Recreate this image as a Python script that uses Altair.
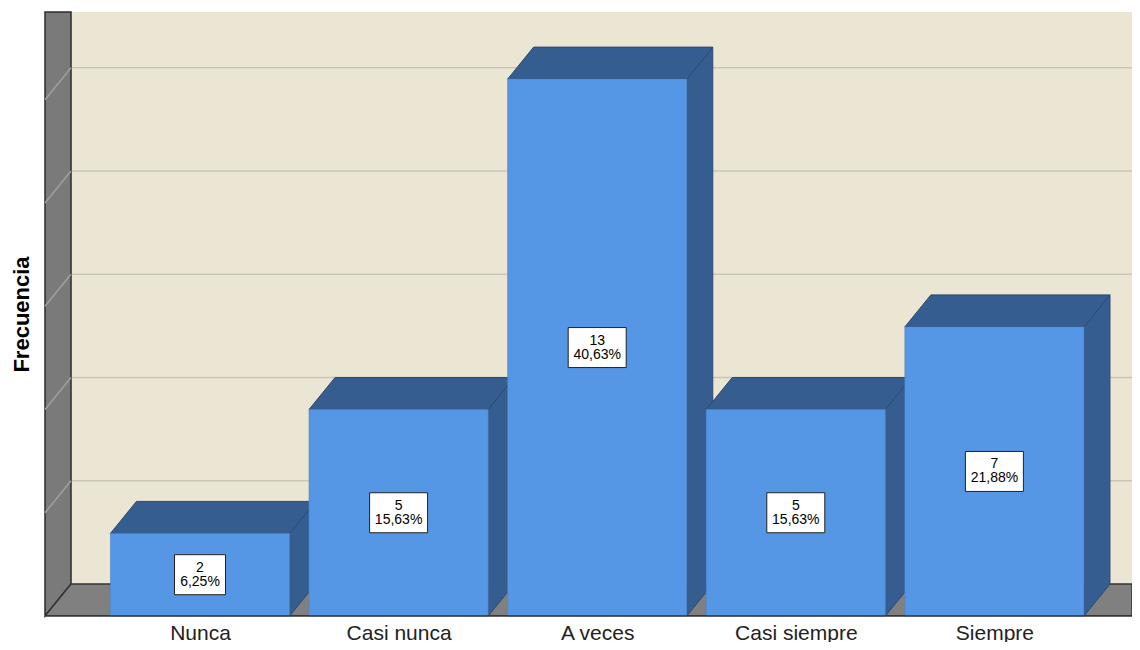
import json
import altair as alt
import pandas as pd

# ---- data ----
CATEGORIES = ["Nunca", "Casi nunca", "A veces", "Casi siempre", "Siempre"]
COUNTS = [2, 5, 13, 5, 7]
PERCENTS = [6.25, 15.63, 40.63, 15.63, 21.88]
GRID_TICKS = [2.5, 5.0, 7.5, 10.0, 12.5]

# ---- layout constants (pixels) ----
W, H = 1087, 604
PXX, PXY = 198.6, 41.3        # px per category step, px per count unit
X0 = 155                       # px from plot left edge to first category centre
DEPTH_X, DEPTH_Y = 26, 32      # oblique depth of the 3D effect
BAR_HALF = 0.451

XMIN = -X0 / PXX
XMAX = XMIN + W / PXX
YMAX = H / PXY
DX = DEPTH_X / PXX
DY = DEPTH_Y / PXY

FRONT = "#5596E5"
DARK = "#355D8F"
EDGE = "#2A4A74"
WALL = "#7A7A7A"
FLOOR = "#808080"
BACK = "#EBE6D3"
GRID = "#C9C5B8"

xs = alt.Scale(domain=[XMIN, XMAX], nice=False, zero=False)
ys = alt.Scale(domain=[0, YMAX], nice=False, zero=False)

label_expr = json.dumps(CATEGORIES) + "[datum.value]"
X_AXIS = alt.Axis(values=list(range(len(CATEGORIES))), labelExpr=label_expr,
                  title=None, ticks=False, domain=False, grid=False,
                  labelFontSize=21, labelFont="Liberation Sans", labelColor="#222222",
                  labelPadding=6, labelOverlap=False, labelFlush=False)
Y_AXIS = alt.Axis(title="Frecuencia", labels=False, ticks=False, domain=False,
                  grid=False, titleFontSize=22, titleFont="Liberation Sans",
                  titleFontWeight="bold", titleColor="black", titlePadding=12)


def X(f):
    return alt.X(f, type="quantitative", scale=xs, axis=X_AXIS)


def Y(f):
    return alt.Y(f, type="quantitative", scale=ys, axis=Y_AXIS)


# ---- tables built from the arrays ----
fronts = pd.DataFrame({"cat": CATEGORIES, "i": list(range(len(CATEGORIES))), "n": COUNTS})
fronts["x0"] = fronts["i"] - BAR_HALF
fronts["x1"] = fronts["i"] + BAR_HALF
fronts["zero"] = 0.0

top_rows, side_rows = [], []
for c, i, n in zip(CATEGORIES, range(len(CATEGORIES)), COUNTS):
    top_rows.append({"cat": c, "y": n, "x": i - BAR_HALF, "x2": i + BAR_HALF})
    top_rows.append({"cat": c, "y": n + DY, "x": i - BAR_HALF + DX, "x2": i + BAR_HALF + DX})
    side_rows.append({"cat": c, "x": i + BAR_HALF, "y": 0.0, "y2": n})
    side_rows.append({"cat": c, "x": i + BAR_HALF + DX, "y": DY, "y2": n + DY})
tops = pd.DataFrame(top_rows)
sides = pd.DataFrame(side_rows)

labels = []
for i, (n, p) in enumerate(zip(COUNTS, PERCENTS)):
    ptxt = f"{p:.2f}%".replace(".", ",")
    wpx = 7 * len(ptxt) + 16
    labels.append({"i": i, "mid": n / 2, "txt": f"{n}\n{ptxt}",
                   "bx0": i - wpx / 2 / PXX, "bx1": i + wpx / 2 / PXX})
labels = pd.DataFrame(labels)

floor = pd.DataFrame([{"y": 0.0, "x": XMIN, "x2": XMAX},
                      {"y": DY, "x": XMIN + DX, "x2": XMAX}])
lwall = pd.DataFrame([{"x": XMIN, "y": 0.0, "y2": YMAX},
                      {"x": XMIN + DX, "y": DY, "y2": YMAX}])
back = pd.DataFrame([{"x": XMIN + DX, "x2": XMAX, "y": DY, "y2": YMAX}])
grid = pd.DataFrame({"t": GRID_TICKS})
grid["yb"] = grid["t"] + DY
grid["xa"] = XMIN + DX
grid["xb"] = XMAX
grid["xw"] = XMIN
base_line = pd.DataFrame([{"x": XMIN, "x2": XMAX, "y": 0.0}])

# ---- layers ----
back_l = alt.Chart(back).mark_rect(color=BACK).encode(x=X("x"), x2="x2", y=Y("y"), y2="y2")
grid_l = alt.Chart(grid).mark_rule(color=GRID, strokeWidth=1.5).encode(
    x=X("xa"), x2="xb", y=Y("yb"))
wall_l = alt.Chart(lwall).mark_area(orient="vertical", color=WALL, stroke="#2b2b2b",
                                    strokeWidth=1.5).encode(x=X("x"), y=Y("y"), y2="y2")
wgrid_l = alt.Chart(grid).mark_rule(color="#A0A0A0", strokeWidth=1.5).encode(
    x=X("xa"), x2="xw", y=Y("yb"), y2="t")
floor_l = alt.Chart(floor).mark_area(orient="horizontal", color=FLOOR, stroke="#333333",
                                     strokeWidth=1.5, clip=True).encode(
    y=Y("y"), x=X("x"), x2="x2")

sides_l = alt.Chart(sides).mark_area(orient="vertical", color=DARK, stroke=EDGE,
                                     strokeWidth=1).encode(
    x=X("x"), y=Y("y"), y2="y2", detail="cat:N")
tops_l = alt.Chart(tops).mark_area(orient="horizontal", color=DARK, stroke=EDGE,
                                   strokeWidth=1).encode(
    y=Y("y"), x=X("x"), x2="x2", detail="cat:N")

front_l = alt.Chart(fronts).mark_rect(color=FRONT, stroke="#4A84CC", strokeWidth=0.6).encode(
    x=X("x0"), x2="x1", y=Y("zero"), y2="n")

baseline_l = alt.Chart(base_line).mark_rule(color="#333333", strokeWidth=1.5).encode(
    x=X("x"), x2="x2", y=Y("y"))

box_l = alt.Chart(labels).mark_rect(color="white", stroke="#222222", strokeWidth=1,
                                    yOffset=-20, y2Offset=20).encode(
    x=X("bx0"), x2="bx1", y=Y("mid"), y2="mid")
text_l = alt.Chart(labels).mark_text(lineBreak="\n", fontSize=14, lineHeight=14, dy=-7,
                                     font="Liberation Sans", color="black",
                                     baseline="middle", align="center").encode(
    x=X("i"), y=Y("mid"), text="txt:N")

chart = alt.layer(
    back_l, grid_l, wall_l, wgrid_l, floor_l,
    sides_l, tops_l, front_l, baseline_l, box_l, text_l,
).properties(
    width=W, height=H,
    autosize=alt.AutoSizeParams(type="none"),
    padding={"left": 37, "top": 4, "right": 0, "bottom": 26},
    background="white",
).configure_view(stroke=None)

chart.save("out.html", embed_options={"renderer": "svg", "actions": False})
